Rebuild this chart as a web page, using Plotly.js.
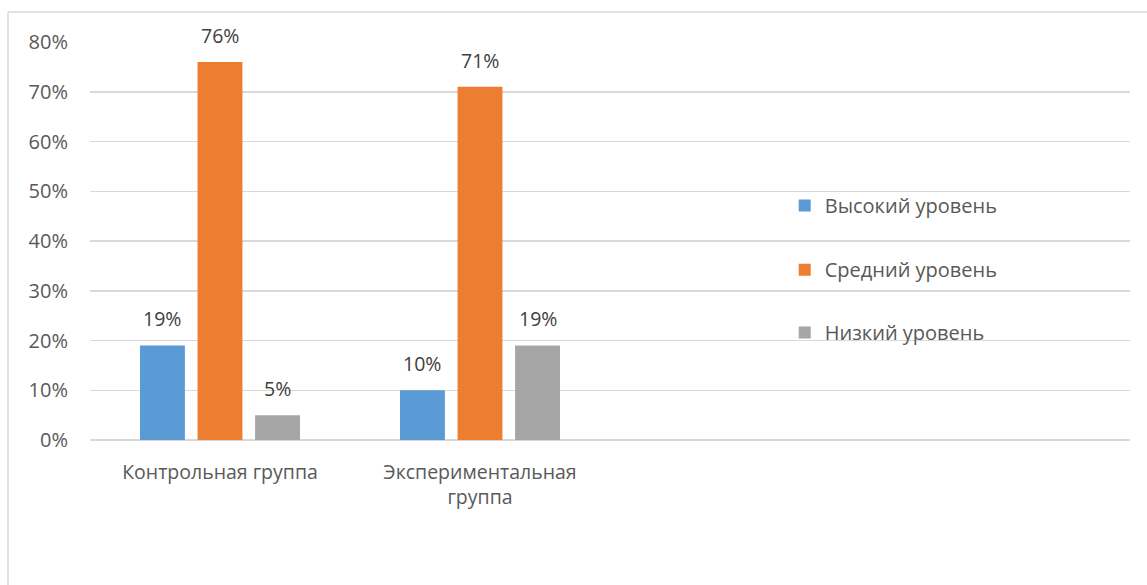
<!DOCTYPE html>
<html>
<head>
<meta charset="utf-8">
<script src="https://cdn.plot.ly/plotly-3.0.1.min.js"></script>
<style>
html,body{margin:0;padding:0;background:#fff;}
#chart{width:1147px;height:585px;}
</style>
</head>
<body>
<div id="chart"></div>
<script>
const categories = ['Контрольная группа', 'Экспериментальная<br>группа', ' ', '  '];
const seriesNames = ['Высокий уровень', 'Средний уровень', 'Низкий уровень'];
const highLevel = [0.19, 0.10, null, null];
const midLevel = [0.76, 0.71, null, null];
const lowLevel = [0.05, 0.19, null, null];
const colors = ['#5b9bd5', '#ed7d31', '#a5a5a5'];
const yTicks = [0, 0.1, 0.2, 0.3, 0.4, 0.5, 0.6, 0.7, 0.8];
const yTickLabels = ['0%', '10%', '20%', '30%', '40%', '50%', '60%', '70%', '80%'];

const seriesValues = [highLevel, midLevel, lowLevel];
const legendIds = ['legend', 'legend2', 'legend3'];
const FONT = 'Open Sans, Noto Sans, sans-serif';

const traces = seriesValues.map((vals, i) => ({
  type: 'bar',
  name: seriesNames[i],
  x: categories,
  y: vals,
  marker: {color: colors[i], line: {width: 0}},
  legend: legendIds[i],
  hoverinfo: 'skip'
}));

// data labels
const plotW = 1147 - 90 - 17;
const slot = plotW / 4;
const bargap = 0.336;
const sub = (1 - bargap) / 3 * slot;
const annotations = [];
seriesValues.forEach((vals, i) => {
  vals.forEach((v, j) => {
    if (v === null) return;
    annotations.push({
      x: categories[j], y: v, xref: 'x', yref: 'y',
      text: Math.round(v * 100) + '%',
      showarrow: false, yanchor: 'bottom',
      xshift: (i - 1) * sub, yshift: 11,
      font: {family: FONT, size: 19.5, color: '#404040'}
    });
  });
});

function legendCfg(y) {
  return {
    x: 0.668, y: y, xanchor: 'left', yanchor: 'middle',
    bgcolor: 'rgba(0,0,0,0)',
    font: {family: FONT, size: 20, color: '#595959'},
    itemclick: false, itemdoubleclick: false
  };
}

const layout = {
  width: 1147, height: 585,
  margin: {l: 90, r: 17, t: 42, b: 145},
  paper_bgcolor: '#ffffff',
  plot_bgcolor: '#ffffff',
  barmode: 'group',
  bargap: bargap,
  bargroupgap: 0.22,
  showlegend: true,
  legend: legendCfg(0.589),
  legend2: legendCfg(0.428),
  legend3: legendCfg(0.270),
  xaxis: {
    type: 'category',
    range: [-0.5, 3.5],
    showgrid: false,
    showline: false,
    zeroline: false,
    ticks: '',
    tickfont: {family: FONT, size: 19.5, color: '#595959'},
    ticklabelstandoff: 18,
    fixedrange: true
  },
  yaxis: {
    range: [0, 0.8],
    tickvals: yTicks,
    ticktext: yTickLabels,
    showgrid: true,
    gridcolor: '#d9d9d9',
    gridwidth: 1.5,
    zeroline: true,
    zerolinecolor: '#d9d9d9',
    zerolinewidth: 1.5,
    showline: false,
    ticks: '',
    tickfont: {family: FONT, size: 20, color: '#595959'},
    ticklabelstandoff: 21,
    fixedrange: true
  },
  annotations: annotations,
  shapes: [
    {type: 'line', xref: 'paper', yref: 'paper',
     x0: (8 - 90) / plotW, x1: (1160 - 90) / plotW,
     y0: (440 - 12) / 398, y1: (440 - 12) / 398,
     line: {color: '#d9d9d9', width: 1.5}},
    {type: 'line', xref: 'paper', yref: 'paper',
     x0: (8 - 90) / plotW, x1: (8 - 90) / plotW,
     y0: (440 - 12) / 398, y1: (440 - 600) / 398,
     line: {color: '#d9d9d9', width: 1.5}}
  ]
};

Plotly.newPlot('chart', traces, layout, {displayModeBar: false, staticPlot: true});
</script>
</body>
</html>
